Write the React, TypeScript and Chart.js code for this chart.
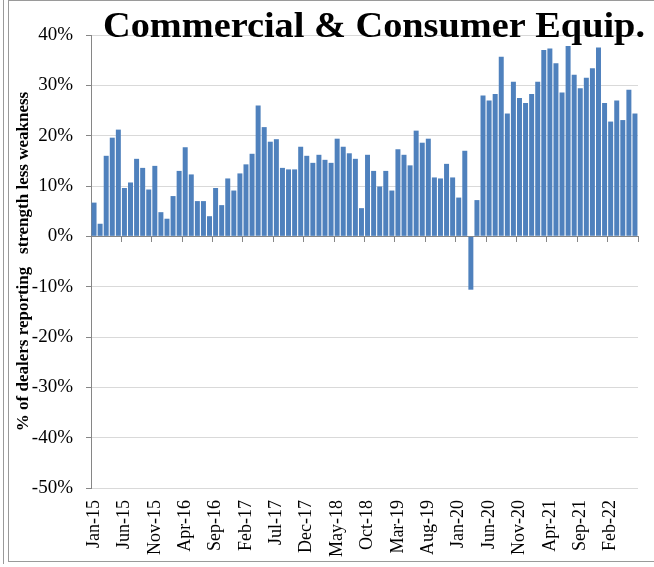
import React, { useEffect, useRef } from "react";
import { Chart, registerables } from "chart.js";

Chart.register(...registerables);

const TITLE = "Commercial & Consumer Equip.";
const Y_TITLE = "% of dealers reporting   strength less weakness";

const months: string[] = [
  "Jan-15", "Feb-15", "Mar-15", "Apr-15", "May-15", "Jun-15", "Jul-15", "Aug-15", "Sep-15", "Oct-15", "Nov-15", "Dec-15",
  "Jan-16", "Feb-16", "Mar-16", "Apr-16", "May-16", "Jun-16", "Jul-16", "Aug-16", "Sep-16", "Oct-16", "Nov-16", "Dec-16",
  "Jan-17", "Feb-17", "Mar-17", "Apr-17", "May-17", "Jun-17", "Jul-17", "Aug-17", "Sep-17", "Oct-17", "Nov-17", "Dec-17",
  "Jan-18", "Feb-18", "Mar-18", "Apr-18", "May-18", "Jun-18", "Jul-18", "Aug-18", "Sep-18", "Oct-18", "Nov-18", "Dec-18",
  "Jan-19", "Feb-19", "Mar-19", "Apr-19", "May-19", "Jun-19", "Jul-19", "Aug-19", "Sep-19", "Oct-19", "Nov-19", "Dec-19",
  "Jan-20", "Feb-20", "Mar-20", "Apr-20", "May-20", "Jun-20", "Jul-20", "Aug-20", "Sep-20", "Oct-20", "Nov-20", "Dec-20",
  "Jan-21", "Feb-21", "Mar-21", "Apr-21", "May-21", "Jun-21", "Jul-21", "Aug-21", "Sep-21", "Oct-21", "Nov-21", "Dec-21",
  "Jan-22", "Feb-22", "Mar-22", "Apr-22", "May-22", "Jun-22",
];

const netStrength: number[] = [
  6.7, 2.5, 16.0, 19.6, 21.2, 9.6, 10.7, 15.4, 13.6, 9.3, 14.0, 4.8,
  3.5, 8.0, 13.0, 17.7, 12.3, 7.0, 7.0, 4.0, 9.6, 6.2, 11.5, 9.1,
  12.5, 14.3, 16.4, 26.0, 21.7, 18.8, 19.3, 13.6, 13.3, 13.3, 17.8, 16.0,
  14.6, 16.2, 15.2, 14.6, 19.4, 17.8, 16.5, 15.4, 5.6, 16.2, 13.0, 9.9,
  13.0, 9.1, 17.3, 16.2, 14.1, 21.0, 18.6, 19.4, 11.7, 11.5, 14.4, 11.7,
  7.7, 17.0, -10.6, 7.2, 28.0, 27.0, 28.3, 35.7, 24.4, 30.7, 27.5, 26.5,
  28.3, 30.7, 37.0, 37.3, 34.4, 28.6, 37.8, 32.1, 29.4, 31.5, 33.4, 37.5,
  26.5, 22.8, 27.0, 23.1, 29.1, 24.4,
];

const Y_MIN = -50;
const Y_MAX = 40;
const Y_STEP = 10;
const LABEL_EVERY = 5;

const SERIF = '"Liberation Serif", "Times New Roman", Times, serif';
const BAR_COLOR = "#4f81bd";
const AXIS_COLOR = "#868686";
const GRID_COLOR = "#d9d9d9";

const titlePlugin = {
  id: "customTitle",
  afterDraw(chart: any) {
    const ctx = chart.ctx as CanvasRenderingContext2D;
    ctx.save();
    ctx.font = `bold 36px ${SERIF}`;
    const w = ctx.measureText(TITLE).width;
    const targetW = 542;
    const sx = targetW / w;
    ctx.translate(103, 36.5);
    ctx.scale(sx, 1);
    ctx.textAlign = "left";
    ctx.textBaseline = "alphabetic";
    ctx.fillStyle = "#000";
    ctx.fillText(TITLE, 0, 0);
    ctx.restore();
  },
};

export default function App() {
  const ref = useRef<HTMLCanvasElement | null>(null);

  useEffect(() => {
    if (!ref.current) return;
    const chart = new Chart(ref.current, {
      type: "bar",
      data: {
        labels: months,
        datasets: [
          {
            data: netStrength,
            backgroundColor: BAR_COLOR,
            borderWidth: 0,
            categoryPercentage: 1,
            barPercentage: 0.82,
          },
        ],
      },
      plugins: [titlePlugin],
      options: {
        animation: false,
        responsive: false,
        devicePixelRatio: 1,
        layout: { padding: { left: 10, right: 16, top: 35, bottom: 0 } },
        plugins: {
          legend: { display: false },
          tooltip: { enabled: false },
          title: { display: false },
        },
        scales: {
          x: {
            type: "category",
            position: "bottom",
            offset: true,
            grid: { display: false, drawTicks: false, offset: true },
            border: { display: false },
            ticks: {
              autoSkip: false,
              maxRotation: 90,
              minRotation: 90,
              padding: 12,
              color: "#000",
              font: { family: SERIF, size: 18 },
              callback: (_v: any, i: number) => (i % LABEL_EVERY === 0 ? months[i] : ""),
            },
            afterFit: (scale: any) => {
              scale.height = 567 - 488;
              scale.paddingLeft = 0;
              scale.paddingRight = 0;
            },
          },
          x2: {
            type: "category",
            position: { y: 0 } as any,
            offset: true,
            grid: {
              display: true,
              drawOnChartArea: false,
              drawTicks: true,
              tickLength: 5,
              offset: true,
              tickColor: (ctx: any) =>
                ctx.type !== "tick" || ctx.index % LABEL_EVERY === 0 ? AXIS_COLOR : "rgba(0,0,0,0)",
            },
            border: { display: true, color: AXIS_COLOR, width: 1 },
            ticks: { display: false, autoSkip: false },
            afterFit: (scale: any) => {
              scale.paddingLeft = 0;
              scale.paddingRight = 0;
            },
          },
          y: {
            min: Y_MIN,
            max: Y_MAX,
            grid: { color: GRID_COLOR, tickColor: AXIS_COLOR, tickLength: 5 },
            border: { display: true, color: AXIS_COLOR, width: 1 },
            ticks: {
              stepSize: Y_STEP,
              padding: 13,
              color: "#000",
              font: { family: SERIF, size: 19 },
              callback: (v: any) => `${v}%`,
            },
            title: {
              display: true,
              text: Y_TITLE,
              color: "#000",
              padding: { top: 3, bottom: 0 },
              font: { family: SERIF, size: 17, weight: "bold" },
            },
            afterFit: (scale: any) => {
              scale.width = 91 - 10;
            },
          },
        },
      },
    });
    return () => chart.destroy();
  }, []);

  return (
    <div
      style={{
        position: "absolute",
        left: 0,
        top: 0,
        width: 654,
        height: 567,
        overflow: "hidden",
        background: "#fff",
      }}
    >
      <div style={{ position: "absolute", left: 3, top: 0, width: 1, height: 564, background: "#9a9a9a" }} />
      <div
        style={{
          position: "absolute",
          left: 8,
          top: 0,
          width: 700,
          height: 562,
          borderLeft: "1px solid #9a9a9a",
          borderTop: "1px solid #9a9a9a",
          borderBottom: "1px solid #9a9a9a",
          boxSizing: "border-box",
        }}
      />
      <canvas ref={ref} width={654} height={567} style={{ position: "absolute", left: 0, top: 0, width: 654, height: 567 }} />
    </div>
  );
}
